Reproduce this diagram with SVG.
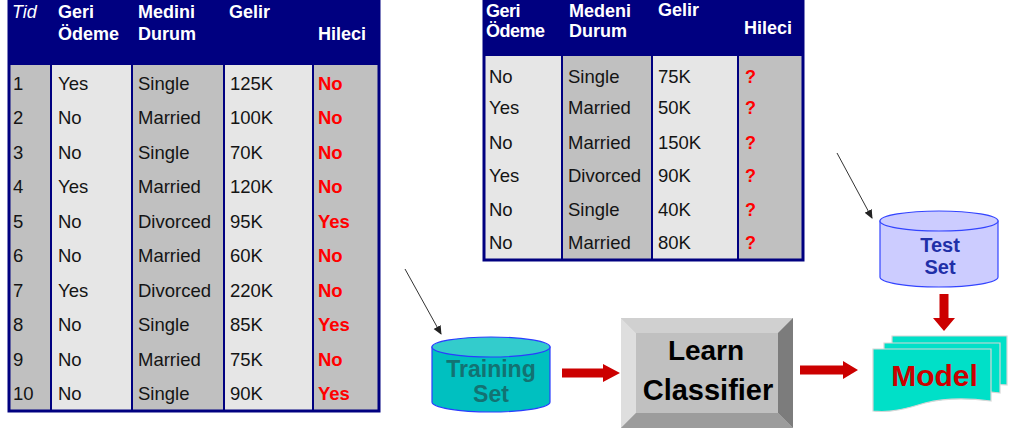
<svg xmlns="http://www.w3.org/2000/svg" width="1009" height="434" viewBox="0 0 1009 434">
  <style>
    text { font-family: "Liberation Sans", Arial, sans-serif; }
    .hd { fill: #ffffff; font-weight: bold; font-size: 18px; }
    .hd-it { fill: #ffffff; font-style: italic; font-size: 18px; }
    .cell { fill: #141414; font-size: 18.5px; }
    .red { fill: #ff0000; font-size: 18.5px; font-weight: bold; }
    .q { fill: #ff0000; font-size: 18px; font-weight: bold; }
    .navy { fill: #000080; }
    .lt { fill: #e6e6e6; }
    .dk { fill: #c0c0c0; }
    .grid { stroke: #000080; stroke-width: 2; fill: none; }
    .frame { stroke: #000080; stroke-width: 3; fill: none; }
    .pointer { stroke: #333333; stroke-width: 1; fill: none; }
    .flow { fill: #cc0000; }
    .page { fill: #00e0c8; stroke: #d6d6d6; stroke-width: 1.2; }
  </style>
  <defs>
    <marker id="tip" markerWidth="10" markerHeight="10" refX="8" refY="5" orient="auto" markerUnits="userSpaceOnUse">
      <path d="M0,1 L9,5 L0,9 Z" fill="#222222"/>
    </marker>
  </defs>

  <rect width="1009" height="434" fill="#ffffff"/>

  <!-- training data table -->
  <g id="training-table">
    <rect x="9" y="0" width="370" height="65" class="navy"/>
    <rect x="10" y="65" width="41" height="345" class="dk"/>
    <rect x="51" y="65" width="81" height="345" class="lt"/>
    <rect x="132" y="65" width="92" height="345" class="dk"/>
    <rect x="224" y="65" width="89" height="345" class="lt"/>
    <rect x="313" y="65" width="65" height="345" class="dk"/>
    <path class="grid" d="M51,64V411 M132,64V411 M224,64V411 M313,64V411"/>
    <rect x="9" y="-2" width="370" height="413" class="frame"/>

    <text x="12" y="18" class="hd-it">Tid</text>
    <text x="58" y="18" class="hd">Geri</text>
    <text x="58" y="40" class="hd">Ödeme</text>
    <text x="138" y="18" class="hd">Medini</text>
    <text x="138" y="40" class="hd">Durum</text>
    <text x="229" y="18" class="hd">Gelir</text>
    <text x="318" y="40" class="hd">Hileci</text>

    <g class="cell">
      <text x="13" y="89.5">1</text><text x="58" y="89.5">Yes</text><text x="138" y="89.5">Single</text><text x="230" y="89.5">125K</text>
      <text x="13" y="124">2</text><text x="58" y="124">No</text><text x="138" y="124">Married</text><text x="230" y="124">100K</text>
      <text x="13" y="158.5">3</text><text x="58" y="158.5">No</text><text x="138" y="158.5">Single</text><text x="230" y="158.5">70K</text>
      <text x="13" y="193">4</text><text x="58" y="193">Yes</text><text x="138" y="193">Married</text><text x="230" y="193">120K</text>
      <text x="13" y="227.5">5</text><text x="58" y="227.5">No</text><text x="138" y="227.5">Divorced</text><text x="230" y="227.5">95K</text>
      <text x="13" y="262">6</text><text x="58" y="262">No</text><text x="138" y="262">Married</text><text x="230" y="262">60K</text>
      <text x="13" y="296.5">7</text><text x="58" y="296.5">Yes</text><text x="138" y="296.5">Divorced</text><text x="230" y="296.5">220K</text>
      <text x="13" y="331">8</text><text x="58" y="331">No</text><text x="138" y="331">Single</text><text x="230" y="331">85K</text>
      <text x="13" y="365.5">9</text><text x="58" y="365.5">No</text><text x="138" y="365.5">Married</text><text x="230" y="365.5">75K</text>
      <text x="13" y="400">10</text><text x="58" y="400">No</text><text x="138" y="400">Single</text><text x="230" y="400">90K</text>
    </g>
    <g>
      <text x="318" y="89.5" class="red">No</text>
      <text x="318" y="124" class="red">No</text>
      <text x="318" y="158.5" class="red">No</text>
      <text x="318" y="193" class="red">No</text>
      <text x="318" y="227.5" class="red">Yes</text>
      <text x="318" y="262" class="red">No</text>
      <text x="318" y="296.5" class="red">No</text>
      <text x="318" y="331" class="red">Yes</text>
      <text x="318" y="365.5" class="red">No</text>
      <text x="318" y="400" class="red">Yes</text>
    </g>
  </g>

  <!-- unlabeled test data table -->
  <g id="test-table">
    <rect x="483" y="0" width="321" height="56" class="navy"/>
    <rect x="484" y="56" width="78" height="204" class="lt"/>
    <rect x="562" y="56" width="90" height="204" class="dk"/>
    <rect x="652" y="56" width="86" height="204" class="lt"/>
    <rect x="738" y="56" width="65" height="204" class="dk"/>
    <path class="grid" d="M562,55V260 M652,55V260 M738,55V260"/>
    <rect x="484" y="-2" width="319" height="262" class="frame" stroke-width="2.5"/>

    <text x="486" y="17" class="hd" letter-spacing="-0.5">Geri</text>
    <text x="486" y="37" class="hd" letter-spacing="-0.5">Ödeme</text>
    <text x="569" y="17" class="hd">Medeni</text>
    <text x="569" y="37" class="hd">Durum</text>
    <text x="658" y="16" class="hd">Gelir</text>
    <text x="744" y="34" class="hd">Hileci</text>

    <g class="cell">
      <text x="489" y="82.5">No</text><text x="568" y="82.5">Single</text><text x="658" y="82.5">75K</text>
      <text x="489" y="114">Yes</text><text x="568" y="114">Married</text><text x="658" y="114">50K</text>
      <text x="489" y="148.5">No</text><text x="568" y="148.5">Married</text><text x="658" y="148.5">150K</text>
      <text x="489" y="181.5">Yes</text><text x="568" y="181.5">Divorced</text><text x="658" y="181.5">90K</text>
      <text x="489" y="216">No</text><text x="568" y="216">Single</text><text x="658" y="216">40K</text>
      <text x="489" y="249">No</text><text x="568" y="249">Married</text><text x="658" y="249">80K</text>
    </g>
    <g>
      <text x="745" y="82.5" class="q">?</text>
      <text x="745" y="114" class="q">?</text>
      <text x="745" y="148.5" class="q">?</text>
      <text x="745" y="181.5" class="q">?</text>
      <text x="745" y="216" class="q">?</text>
      <text x="745" y="249" class="q">?</text>
    </g>
  </g>

  <!-- Training Set store -->
  <g id="training-set">
    <path d="M432,347 V402 A59,10 0 0 0 550,402 V347 Z" fill="#00c0c0" stroke="#2a3cff" stroke-width="1.2"/>
    <ellipse cx="491" cy="347" rx="59" ry="10" fill="#33cccc" stroke="#2a3cff" stroke-width="1.2"/>
    <text x="491" y="377" text-anchor="middle" font-size="23" font-weight="bold" fill="#137272">Training</text>
    <text x="491" y="402" text-anchor="middle" font-size="23" font-weight="bold" fill="#137272">Set</text>
  </g>

  <!-- Learn Classifier bevelled button -->
  <g id="learn-classifier">
    <rect x="621" y="318" width="172" height="110" fill="#c0c0c0"/>
    <polygon points="621,318 793,318 778,333 636,333" fill="#d0d0d0"/>
    <polygon points="621,318 636,333 636,413 621,428" fill="#dedede"/>
    <polygon points="793,318 793,428 778,413 778,333" fill="#7c7c7c"/>
    <polygon points="621,428 793,428 778,413 636,413" fill="#9c9c9c"/>
    <text x="706" y="360" text-anchor="middle" font-size="28" font-weight="bold" fill="#000000">Learn</text>
    <text x="708" y="400" text-anchor="middle" font-size="29" font-weight="bold" fill="#000000">Classifier</text>
  </g>

  <!-- Test Set store -->
  <g id="test-set">
    <path d="M880,221 V277 A59,10 0 0 0 998,277 V221 Z" fill="#ccccff" stroke="#3344ff" stroke-width="1.2"/>
    <ellipse cx="939" cy="221" rx="59" ry="10" fill="#ccccff" stroke="#3344ff" stroke-width="1.2"/>
    <text x="940" y="252" text-anchor="middle" font-size="20" font-weight="bold" fill="#1f2fa8">Test</text>
    <text x="940" y="274" text-anchor="middle" font-size="20" font-weight="bold" fill="#1f2fa8">Set</text>
  </g>

  <!-- Model: stacked documents -->
  <g id="model">
    <path class="page" d="M892,336 H1007 V385 C990,384 975,383 960,386 H892 Z"/>
    <path class="page" d="M884,343 H1000 V393 C983,391 968,391 952,394 H884 Z"/>
    <path class="page" d="M873,349 H991 V401 C968,398 945,398 925,403 C905,409 890,413 873,411 Z"/>
    <text x="934.5" y="386" text-anchor="middle" font-size="30" font-weight="bold" fill="#cc0000">Model</text>
  </g>

  <!-- connectors -->
  <g id="connectors">
    <line class="pointer" x1="405" y1="269" x2="441" y2="334" marker-end="url(#tip)"/>
    <line class="pointer" x1="837" y1="153" x2="872" y2="218" marker-end="url(#tip)"/>
    <polygon class="flow" points="562,368.5 603,368.5 603,364 620,373 603,382 603,377.5 562,377.5"/>
    <polygon class="flow" points="800,365.5 843,365.5 843,361 858,370 843,379 843,374.5 800,374.5"/>
    <polygon class="flow" points="939.5,294 948.5,294 948.5,318 955,318 944,331 933,318 939.5,318"/>
  </g>
</svg>
